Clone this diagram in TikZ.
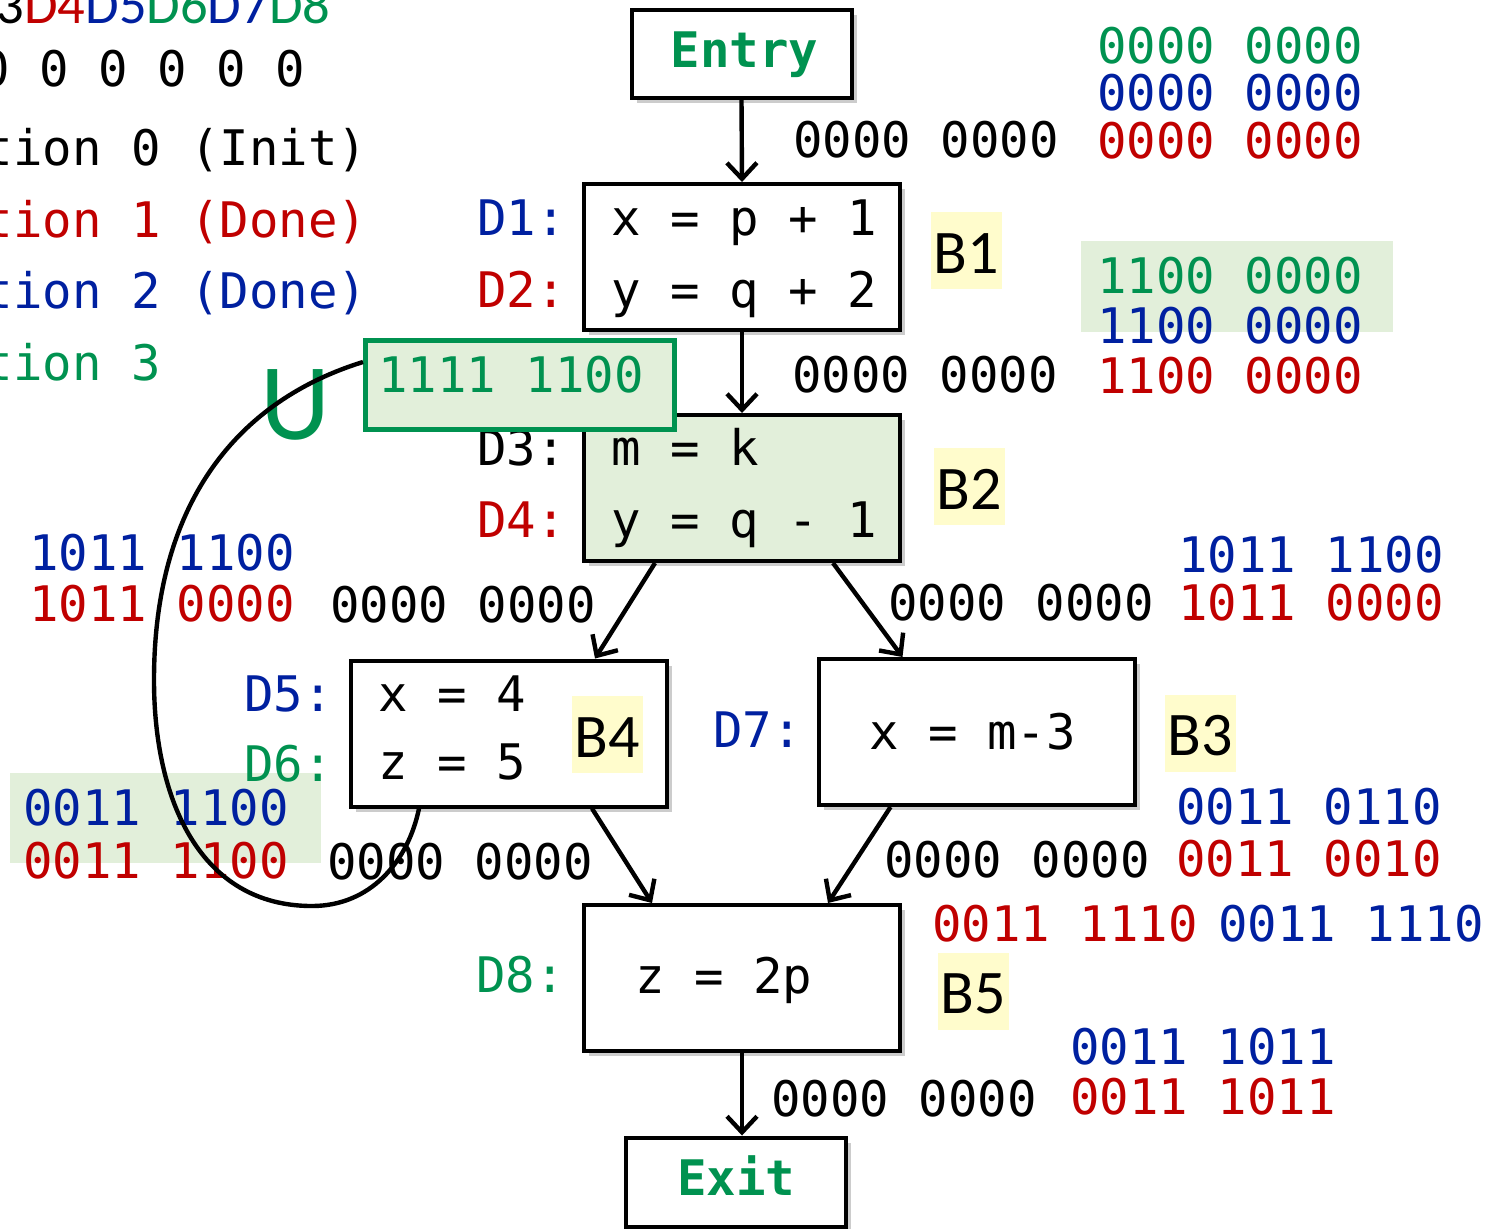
\documentclass[tikz,border=0pt]{standalone}
\usepackage{fontspec}
\usepackage{xcolor}
\usepackage{tikz}
\usetikzlibrary{calc,positioning,shadows,arrows.meta}
\newfontfamily\codefont{DejaVu Sans Mono}
\newfontfamily\labfont{Carlito}
\definecolor{dgreen}{RGB}{0,146,80}
\definecolor{dred}{RGB}{192,0,0}
\definecolor{dblue}{RGB}{0,32,160}
\definecolor{lgreen}{RGB}{226,239,218}
\definecolor{lyellow}{RGB}{255,252,204}

\begin{document}
\begin{tikzpicture}[x=.5pt,y=-.5pt,
    code/.style={anchor=base west,inner sep=0pt,font=\codefont\fontsize{24.5pt}{29pt}\selectfont},
    blk/.style={draw,line width=2pt,fill=white,minimum width=158pt,minimum height=73pt,inner sep=0pt,
      drop shadow={shadow xshift=2.5pt,shadow yshift=-2.5pt,opacity=.4}},
    term/.style={blk,minimum width=110pt,minimum height=44pt,text=dgreen,text height=18pt,text depth=5pt,
      font=\codefont\bfseries\fontsize{24.5pt}{29pt}\selectfont},
    blabel/.style={fill=lyellow,inner sep=0pt,minimum width=35.5pt,minimum height=38.5pt,
      text height=22.5pt,text depth=0pt,font=\labfont\fontsize{31pt}{36pt}\selectfont},
    arr/.style={line width=2.2pt,-{Straight Barb[length=8pt,width=15pt]}},
    loopline/.style={line width=2.2pt}]
  \useasboundingbox (0,0) rectangle (1493,1228);
  \clip (0,0) rectangle (1493,1228);

  \fill[lgreen] (1081,241) rectangle (1393,332);
  \fill[lgreen] (10,773) rectangle (321,863);

  \node[anchor=base west,inner sep=0pt,font=\labfont\fontsize{27.3pt}{31pt}\selectfont] (dhead) at (-160,23)
    {{\color{dblue}D1}{\color{dred}D2}D3{\color{dred}D4}{\color{dblue}D5}{\color{dgreen}D6}{\color{dblue}D7}{\color{dgreen}D8}};
  \node[code] (bits) at (-138,86) {0 0 0 0 0 0 0 0};
  \node[code] (it0) at (-164,165) {Iteration 0 (Init)};
  \node[code,dred] (it1) at (-164,237) {Iteration 1 (Done)};
  \node[code,dblue] (it2) at (-164,308) {Iteration 2 (Done)};
  \node[code,dgreen] (it3) at (-164,380) {Iteration 3};

  \node[term] (entry) at (741.5,54) {\hspace*{3pt}Entry};
  \node[blk] (B1) at (742,257) {};
  \node[blk,fill=lgreen] (B2) at (742,488) {};
  \node[blk] (B4) at (509,733.5) {};
  \node[blk] (B3) at (976.5,732) {};
  \node[blk] (B5) at (742,978) {};
  \node[term,minimum height=44.5pt] (exit) at (736,1182) {Exit};

  \node[code] (b1a) at (611,235) {x = p + 1};
  \node[code] (b1b) at (611,307) {y = q + 2};
  \node[code,dblue] (d1) at (477,235) {D1:};
  \node[code,dred] (d2) at (477,307) {D2:};
  \node[code] (b2a) at (611,465) {m = k};
  \node[code] (b2b) at (611,537) {y = q - 1};
  \node[code] (d3) at (477,465) {D3:};
  \node[code,dred] (d4) at (477,537) {D4:};
  \node[code] (b4a) at (378,711) {x = 4};
  \node[code] (b4b) at (378,779) {z = 5};
  \node[code,dblue] (d5) at (244,711) {D5:};
  \node[code,dgreen] (d6) at (244,781) {D6:};
  \node[code] (b3a) at (869,749) {x = m-3};
  \node[code,dblue] (d7) at (713,747) {D7:};
  \node[code] (b5a) at (635,993) {z = 2p};
  \node[code,dgreen] (d8) at (476,992) {D8:};

  \node[blabel] (l1) at (966.5,250.5) {B1};
  \node[blabel] (l2) at (969.5,486.5) {B2};
  \node[blabel] (l4) at (607.5,734.5) {B4};
  \node[blabel] (l3) at (1200.5,733) {B3};
  \node[blabel] (l5) at (973.5,991) {B5};

  \draw[arr] (entry.south) -- (B1.north);
  \draw[arr] (B1.south) -- (B2.north);
  \draw[arr] ($(B2.south)+(-87,0)$) -- ($(B4.north)+(86,0)$);
  \draw[arr] ($(B2.south)+(91,0)$) -- ($(B3.north)+(-74,0)$);
  \draw[arr] ($(B4.south)+(83,0)$) -- ($(B5.north)+(-90,0)$);
  \draw[arr] ($(B3.south)+(-86,0)$) -- ($(B5.north)+(86,0)$);
  \draw[arr] (B5.south) -- (B5.south |- exit.north);

  \node[code,dgreen] (e0g) at (1097,63) {0000 0000};
  \node[code,dblue] (e0b) at (1097,110) {0000 0000};
  \node[code,dred] (e0r) at (1097,158) {0000 0000};
  \node[code] (e0k) at (793,157) {0000 0000};
  \node[code,dgreen] (e1g) at (1097,293) {1100 0000};
  \node[code,dblue] (e1b) at (1097,343) {1100 0000};
  \node[code,dred] (e1r) at (1097,393) {1100 0000};
  \node[code] (e1k) at (792,392) {0000 0000};
  \node[code,dblue] (e2b) at (29,570) {1011 1100};
  \node[code,dred] (e2r) at (29,621) {1011 0000};
  \node[code] (e2k) at (330,622) {0000 0000};
  \node[code,dblue] (e3b) at (1178,572) {1011 1100};
  \node[code,dred] (e3r) at (1178,620) {1011 0000};
  \node[code] (e3k) at (888,620) {0000 0000};
  \node[code,dblue] (e4b) at (23,825) {0011 1100};
  \node[code,dred] (e4r) at (23,878) {0011 1100};
  \node[code] (e4k) at (327,879) {0000 0000};
  \node[code,dblue] (e5b) at (1176,824) {0011 0110};
  \node[code,dred] (e5r) at (1176,876) {0011 0010};
  \node[code] (e5k) at (884,877) {0000 0000};
  \node[code,dred] (e6r) at (932,941) {0011 1110};
  \node[code,dblue] (e6b) at (1218,941) {0011 1110};
  \node[code,dblue] (e7b) at (1070,1064) {0011 1011};
  \node[code,dred] (e7r) at (1070,1114) {0011 1011};
  \node[code] (e7k) at (771,1116) {0000 0000};

  \node[inner sep=0pt,text=dgreen,font=\labfont\fontsize{54.5pt}{60pt}\selectfont] (cup) at (295,405) {U};
  \node[draw=dgreen,line width=2.5pt,fill=lgreen,minimum width=154.5pt,minimum height=44.5pt,inner sep=0pt] (ubox) at (520,385) {};
  \node[code,dgreen] (uval) at (378,392) {1111 1100};
  \coordinate (uin) at ($(ubox.west)+(0,-23)$);
  \draw[loopline] ($(B4.south)+(-90,0)$) .. controls (408,862) and (370,906) .. (312,906)
    .. controls (200,906) and (154,800) .. (154,680)
    .. controls (154,500) and (240,400) .. (uin);
\end{tikzpicture}
\end{document}
